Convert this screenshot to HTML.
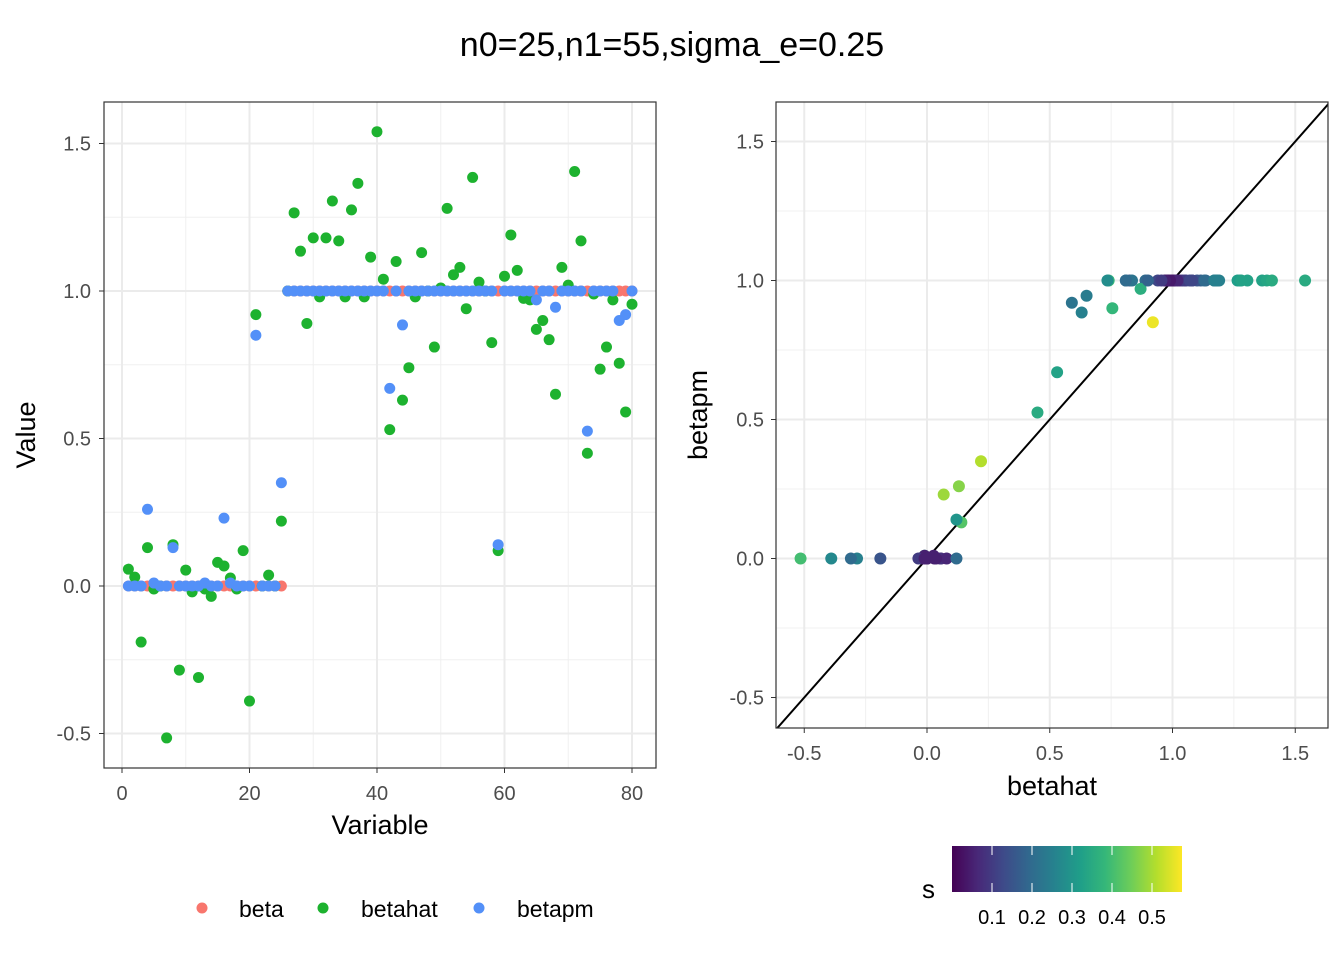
<!DOCTYPE html>
<html><head><meta charset="utf-8"><style>
body{margin:0;background:#fff;font-family:"Liberation Sans",Arial,sans-serif}
svg text{font-family:"Liberation Sans",Arial,sans-serif}
</style></head><body>
<svg id="c" width="1344" height="960" xmlns="http://www.w3.org/2000/svg">
<rect width="1344" height="960" fill="#fff"/>
<text x="672" y="56" text-anchor="middle" font-size="34" fill="#000">n0=25,n1=55,sigma_e=0.25</text>
<g id="L"></g><g id="R"></g><g id="leg"></g>
</svg>
<script>
const variables = Array.from({length:80},(_,i)=>i+1);
const beta = [0,0,0,0,0,0,0,0,0,0,0,0,0,0,0,0,0,0,0,0,0,0,0,0,0,
 1,1,1,1,1,1,1,1,1,1,1,1,1,1,1,1,1,1,1,1,1,1,1,1,1,1,1,1,1,1,1,1,1,1,1,1,1,1,1,1,1,1,1,1,1,1,1,1,1,1,1,1,1,1,1];
const betahat = [0.057,0.03,-0.19,0.13,-0.01,0,-0.515,0.14,-0.285,0.054,-0.02,-0.31,-0.01,-0.035,0.08,0.068,0.027,-0.01,0.12,-0.39,0.92,0,0.037,0,0.22,
 1.0,1.265,1.135,0.89,1.18,0.98,1.18,1.305,1.17,0.98,1.275,1.365,0.98,1.115,1.54,1.04,0.53,1.1,0.63,0.74,0.98,1.13,1.0,0.81,1.01,
 1.28,1.055,1.08,0.94,1.385,1.03,1.0,0.825,0.12,1.05,1.19,1.07,0.975,0.97,0.87,0.9,0.835,0.65,1.08,1.02,1.405,1.17,0.45,0.99,0.735,0.81,0.97,0.755,0.59,0.955];
const betapm = [0,0,0,0.26,0.01,0,0,0.13,0,0,0,0,0.01,0,0,0.23,0.01,0,0,0,0.85,0,0,0,0.35,
 1,1,1,1,1,1,1,1,1,1,1,1,1,1,1,1,0.67,1,0.885,1,1,1,1,1,1,
 1,1,1,1,1,1,1,1,0.14,1,1,1,1,1,0.97,1,1,0.945,1,1,1,1,0.525,1,1,1,1,0.9,0.92,1];
const sval = [0.05,0.05,0.15,0.47,0.35,0.05,0.4,0.42,0.25,0.08,0.05,0.2,0.05,0.1,0.06,0.49,0.05,0.05,0.2,0.27,0.56,0.05,0.05,0.05,0.51,
 0.04,0.32,0.2,0.2,0.25,0.05,0.25,0.33,0.22,0.05,0.32,0.33,0.05,0.18,0.35,0.1,0.33,0.15,0.25,0.38,0.05,0.2,0.04,0.22,0.04,
 0.33,0.12,0.12,0.12,0.34,0.08,0.04,0.15,0.3,0.1,0.25,0.12,0.05,0.05,0.36,0.18,0.22,0.24,0.12,0.06,0.35,0.25,0.35,0.04,0.28,0.2,0.05,0.38,0.22,0.1];
const leftXTicks = [0,20,40,60,80];
const leftYTicks = [-0.5,0,0.5,1,1.5];
const rightTicks = [-0.5,0,0.5,1,1.5];
const cbTicks = [0.1,0.2,0.3,0.4,0.5];

const NS="http://www.w3.org/2000/svg";
function mk(p,t,a){const e=document.createElementNS(NS,t);for(const k in a)e.setAttribute(k,a[k]);p.appendChild(e);return e;}
const vir=[[68,1,84],[72,40,120],[62,74,137],[49,104,142],[38,130,142],[31,158,137],[53,183,121],[109,205,89],[180,222,44],[253,231,37]];
const sMin=0.0, sMax=0.575;
function col(s){let t=Math.max(0,Math.min(1,(s-sMin)/(sMax-sMin)))*(vir.length-1);const i=Math.min(Math.floor(t),vir.length-2),f=t-i;const c=vir[i].map((v,k)=>Math.round(v+(vir[i+1][k]-v)*f));return `rgb(${c})`;}

// Left panel
const L=document.getElementById('L');
const lx=v=>122+v*6.375, ly=v=>586-v*295;
const LP={x:104,y:102,w:552,h:666};
mk(L,'rect',{x:LP.x,y:LP.y,width:LP.w,height:LP.h,fill:'#fff'});
[10,30,50,70].forEach(v=>mk(L,'line',{x1:lx(v),x2:lx(v),y1:LP.y,y2:LP.y+LP.h,stroke:'#f0f0f0','stroke-width':1}));
[-0.25,0.25,0.75,1.25].forEach(v=>mk(L,'line',{x1:LP.x,x2:LP.x+LP.w,y1:ly(v),y2:ly(v),stroke:'#f0f0f0','stroke-width':1}));
leftXTicks.forEach(v=>{mk(L,'line',{x1:lx(v),x2:lx(v),y1:LP.y,y2:LP.y+LP.h,stroke:'#ebebeb','stroke-width':2});
 mk(L,'line',{x1:lx(v),x2:lx(v),y1:768,y2:773,stroke:'#333'});
 const t=mk(L,'text',{x:lx(v),y:800,'text-anchor':'middle','font-size':20,fill:'#4d4d4d'});t.textContent=v;
 });
leftYTicks.forEach(v=>{mk(L,'line',{x1:LP.x,x2:LP.x+LP.w,y1:ly(v),y2:ly(v),stroke:'#ebebeb','stroke-width':2});
 mk(L,'line',{x1:99,x2:104,y1:ly(v),y2:ly(v),stroke:'#333'});
 const t=mk(L,'text',{x:91,y:ly(v)+7,'text-anchor':'end','font-size':20,fill:'#4d4d4d'});t.textContent=v.toFixed(1);
 });
[[beta,'#F8766D','beta-point'],[betahat,'#1DB22F','betahat-point'],[betapm,'#5390F8','betapm-point']].forEach(([arr,c,nm])=>{
 arr.forEach((v,i)=>{const e=mk(L,'circle',{cx:lx(variables[i]),cy:ly(v),r:5.5,fill:c});
 
 });});
mk(L,'rect',{x:LP.x,y:LP.y,width:LP.w,height:LP.h,fill:'none',stroke:'#333','stroke-width':1.2});
let t=mk(L,'text',{x:380,y:834,'text-anchor':'middle','font-size':27});t.textContent='Variable';

t=mk(L,'text',{x:35,y:435,'text-anchor':'middle','font-size':27,transform:'rotate(-90 35 435)'});t.textContent='Value';


// Right panel
const R=document.getElementById('R');
const rx=v=>927+v*245.5, ry=v=>558.5-v*278;
const RP={x:776,y:102,w:552,h:626};
[-0.25,0.25,0.75,1.25].forEach(v=>{mk(R,'line',{x1:rx(v),x2:rx(v),y1:RP.y,y2:RP.y+RP.h,stroke:'#f0f0f0'});
 mk(R,'line',{x1:RP.x,x2:RP.x+RP.w,y1:ry(v),y2:ry(v),stroke:'#f0f0f0'});});
rightTicks.forEach(v=>{
 mk(R,'line',{x1:rx(v),x2:rx(v),y1:RP.y,y2:RP.y+RP.h,stroke:'#ebebeb','stroke-width':2});
 mk(R,'line',{x1:RP.x,x2:RP.x+RP.w,y1:ry(v),y2:ry(v),stroke:'#ebebeb','stroke-width':2});
 mk(R,'line',{x1:rx(v),x2:rx(v),y1:728,y2:733,stroke:'#333'});
 mk(R,'line',{x1:771,x2:776,y1:ry(v),y2:ry(v),stroke:'#333'});
 let a=mk(R,'text',{x:rx(v),y:760,'text-anchor':'middle','font-size':20,fill:'#4d4d4d'});a.textContent=v.toFixed(1);
 
 a=mk(R,'text',{x:764,y:ry(v)+7,'text-anchor':'end','font-size':20,fill:'#4d4d4d'});a.textContent=v.toFixed(1);
 });
const cp=mk(R,'clipPath',{id:'rc'});mk(cp,'rect',{x:RP.x,y:RP.y,width:RP.w,height:RP.h});
const ln=mk(R,'line',{x1:rx(-1),y1:ry(-1),x2:rx(2),y2:ry(2),stroke:'#000','stroke-width':2,'clip-path':'url(#rc)'});

betahat.forEach((v,i)=>{const e=mk(R,'circle',{cx:rx(v),cy:ry(betapm[i]),r:6,fill:col(sval[i])});
 
 });
mk(R,'rect',{x:RP.x,y:RP.y,width:RP.w,height:RP.h,fill:'none',stroke:'#333','stroke-width':1.2});
t=mk(R,'text',{x:1052,y:795,'text-anchor':'middle','font-size':27});t.textContent='betahat';

t=mk(R,'text',{x:707,y:415,'text-anchor':'middle','font-size':27,transform:'rotate(-90 707 415)'});t.textContent='betapm';


// Legends
const G=document.getElementById('leg');
[['beta','#F8766D',202,239],['betahat','#1DB22F',323,361],['betapm','#5390F8',479,517]].forEach(([n,c,px,tx])=>{
 const c1=mk(G,'circle',{cx:px,cy:908,r:5.5,fill:c});
 
 const a=mk(G,'text',{x:tx,y:917,'font-size':23});a.textContent=n;
 });
const defs=mk(G,'defs',{});const gr=mk(defs,'linearGradient',{id:'vg',x1:0,x2:1,y1:0,y2:0});
vir.forEach((c,i)=>mk(gr,'stop',{offset:i/(vir.length-1),'stop-color':`rgb(${c})`}));
const cb=mk(G,'rect',{x:952,y:846,width:230,height:46,fill:'url(#vg)'});

const cbx=v=>952+(v-sMin)/(sMax-sMin)*230;
cbTicks.forEach(v=>{mk(G,'line',{x1:cbx(v),x2:cbx(v),y1:846,y2:855,stroke:'#fff'});mk(G,'line',{x1:cbx(v),x2:cbx(v),y1:883,y2:892,stroke:'#fff'});
 const a=mk(G,'text',{x:cbx(v),y:924,'text-anchor':'middle','font-size':20});a.textContent=v.toFixed(1);
 });
t=mk(G,'text',{x:922,y:898,'font-size':26});t.textContent='s';

</script>
</body></html>
